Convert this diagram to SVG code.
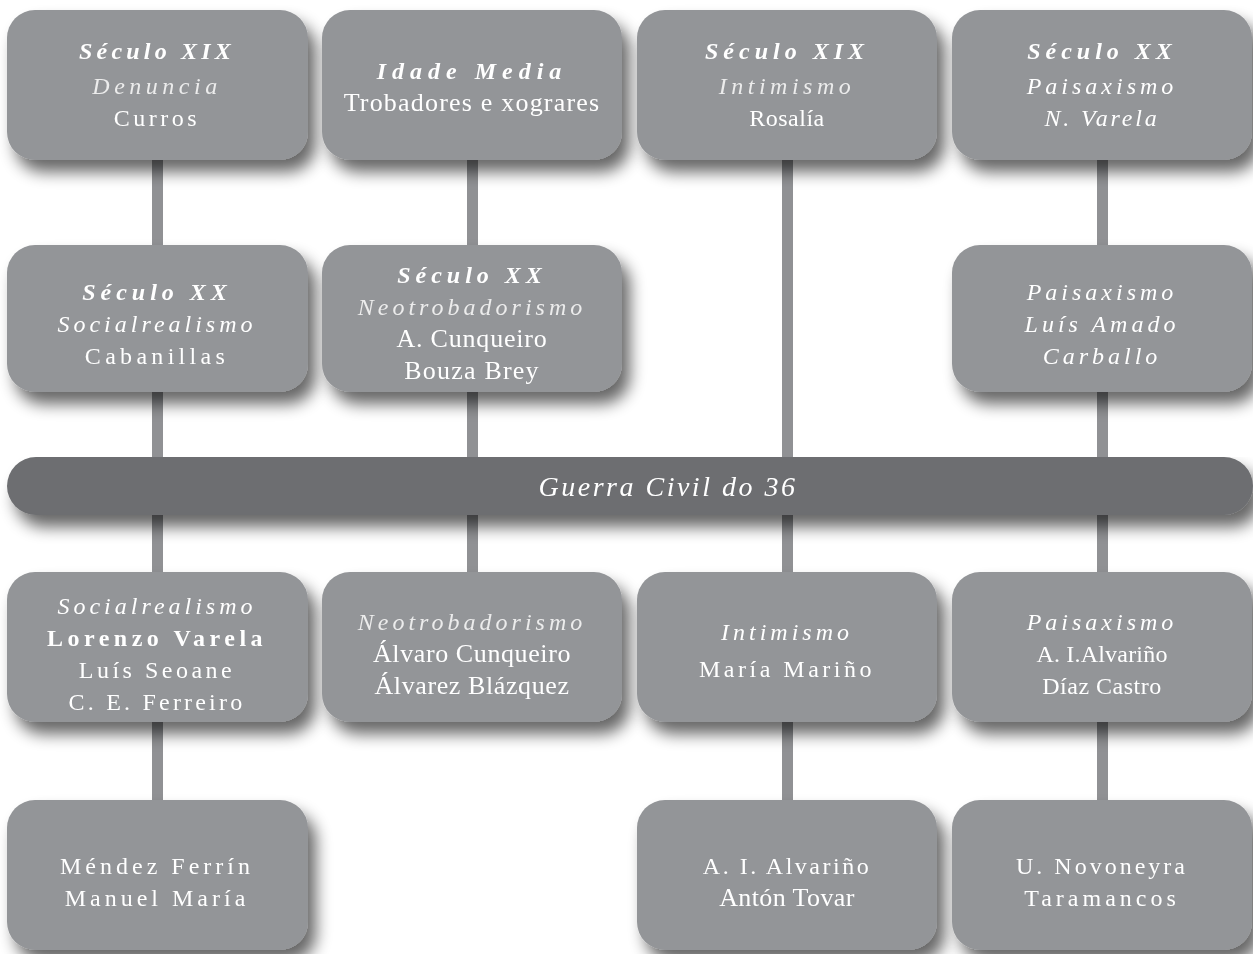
<svg xmlns="http://www.w3.org/2000/svg" width="1253" height="954" viewBox="0 0 1253 954">
<defs>
<filter id="sh" x="-20%" y="-20%" width="150%" height="170%">
<feGaussianBlur in="SourceAlpha" stdDeviation="8"/>
<feOffset dx="8" dy="12" result="b"/>
<feComponentTransfer><feFuncA type="linear" slope="0.6"/></feComponentTransfer>
<feMerge><feMergeNode/><feMergeNode in="SourceGraphic"/></feMerge>
</filter>
<style>
.box{fill:#939598}
.bar{fill:#6d6e71}
.con{fill:#909194}
text{font-family:"Liberation Serif","Times New Roman",serif;font-size:24px;fill:#ffffff;text-anchor:middle}
.h{font-weight:bold;font-style:italic;letter-spacing:5px}
.i{font-style:italic;letter-spacing:4px}
.il{font-style:italic;letter-spacing:4.5px;fill:#ececec}
.w{letter-spacing:3.5px}
.n{letter-spacing:0.5px}
.nb{font-size:26px;letter-spacing:1px}
.b{font-weight:bold;letter-spacing:4.5px}
.g{font-style:italic;font-size:28px;letter-spacing:2.5px}
</style>
</defs>
<rect width="1253" height="954" fill="#ffffff"/>
<g id="connectors">
<rect class="con" x="152" y="150" width="11" height="660"/>
<rect class="con" x="467" y="150" width="11" height="430"/>
<rect class="con" x="782" y="150" width="11" height="660"/>
<rect class="con" x="1097" y="150" width="11" height="660"/>
</g>
<g id="n11" filter="url(#sh)">
<rect class="box" x="7" y="10" width="301" height="150" rx="28"/>
<text x="157" y="59" class="h" style="letter-spacing:4.2px">Século XIX</text>
<text x="157" y="94" class="il">Denuncia</text>
<text x="157" y="126" class="w">Curros</text>
</g>
<g id="n12" filter="url(#sh)">
<rect class="box" x="322" y="10" width="300" height="150" rx="28"/>
<text x="472" y="79" class="h" style="letter-spacing:6px">Idade Media</text>
<text x="472" y="111" class="nb" style="letter-spacing:1.2px">Trobadores e xograres</text>
</g>
<g id="n13" filter="url(#sh)">
<rect class="box" x="637" y="10" width="300" height="150" rx="28"/>
<text x="787" y="59" class="h">Século XIX</text>
<text x="787" y="94" class="il">Intimismo</text>
<text x="787" y="126" class="n">Rosalía</text>
</g>
<g id="n14" filter="url(#sh)">
<rect class="box" x="952" y="10" width="300" height="150" rx="28"/>
<text x="1102" y="59" class="h">Século XX</text>
<text x="1102" y="94" class="i">Paisaxismo</text>
<text x="1102" y="126" class="i" style="letter-spacing:2.8px">N. Varela</text>
</g>
<g id="n21" filter="url(#sh)">
<rect class="box" x="7" y="245" width="301" height="147" rx="28"/>
<text x="157" y="300" class="h">Século XX</text>
<text x="157" y="332" class="i">Socialrealismo</text>
<text x="157" y="364" class="w" style="letter-spacing:4.3px">Cabanillas</text>
</g>
<g id="n22" filter="url(#sh)">
<rect class="box" x="322" y="245" width="300" height="147" rx="28"/>
<text x="472" y="283" class="h">Século XX</text>
<text x="472" y="315" class="il" style="letter-spacing:4px">Neotrobadorismo</text>
<text x="472" y="347" class="nb" style="letter-spacing:0.8px">A. Cunqueiro</text>
<text x="472" y="379" class="nb" style="letter-spacing:1.2px">Bouza Brey</text>
</g>
<g id="n24" filter="url(#sh)">
<rect class="box" x="952" y="245" width="300" height="147" rx="28"/>
<text x="1102" y="300" class="i">Paisaxismo</text>
<text x="1102" y="332" class="i">Luís Amado</text>
<text x="1102" y="364" class="i">Carballo</text>
</g>
<g id="bar" filter="url(#sh)">
<rect class="bar" x="7" y="457" width="1246" height="58" rx="29"/>
<text x="668" y="496" class="g">Guerra Civil do 36</text>
</g>
<g id="n31" filter="url(#sh)">
<rect class="box" x="7" y="572" width="301" height="150" rx="28"/>
<text x="157" y="614" class="i">Socialrealismo</text>
<text x="157" y="646" class="b">Lorenzo Varela</text>
<text x="157" y="678" class="w">Luís Seoane</text>
<text x="157" y="710" class="w" style="letter-spacing:3.2px">C. E. Ferreiro</text>
</g>
<g id="n32" filter="url(#sh)">
<rect class="box" x="322" y="572" width="300" height="150" rx="28"/>
<text x="472" y="630" class="il" style="letter-spacing:4px">Neotrobadorismo</text>
<text x="472" y="662" class="nb" style="letter-spacing:0.6px">Álvaro Cunqueiro</text>
<text x="472" y="694" class="nb" style="letter-spacing:0.6px">Álvarez Blázquez</text>
</g>
<g id="n33" filter="url(#sh)">
<rect class="box" x="637" y="572" width="300" height="150" rx="28"/>
<text x="787" y="640" class="i">Intimismo</text>
<text x="787" y="677" class="w">María Mariño</text>
</g>
<g id="n34" filter="url(#sh)">
<rect class="box" x="952" y="572" width="300" height="150" rx="28"/>
<text x="1102" y="630" class="i">Paisaxismo</text>
<text x="1102" y="662" class="n" style="letter-spacing:0.2px">A. I.Alvariño</text>
<text x="1102" y="694" class="n">Díaz Castro</text>
</g>
<g id="n41" filter="url(#sh)">
<rect class="box" x="7" y="800" width="301" height="150" rx="28"/>
<text x="157" y="874" class="w" style="letter-spacing:4px">Méndez Ferrín</text>
<text x="157" y="906" class="w" style="letter-spacing:4px">Manuel María</text>
</g>
<g id="n43" filter="url(#sh)">
<rect class="box" x="637" y="800" width="300" height="150" rx="28"/>
<text x="787" y="874" class="w" style="letter-spacing:2.5px">A. I. Alvariño</text>
<text x="787" y="906" class="nb" style="letter-spacing:0.4px">Antón Tovar</text>
</g>
<g id="n44" filter="url(#sh)">
<rect class="box" x="952" y="800" width="300" height="150" rx="28"/>
<text x="1102" y="874" class="w" style="letter-spacing:3px">U. Novoneyra</text>
<text x="1102" y="906" class="w" style="letter-spacing:4px">Taramancos</text>
</g>
</svg>
